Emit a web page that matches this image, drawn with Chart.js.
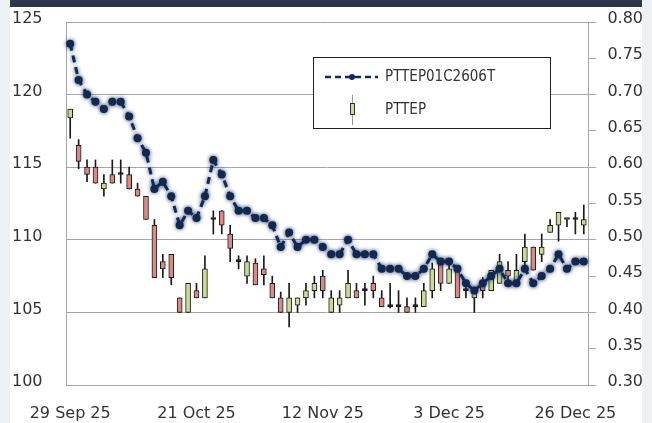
<!DOCTYPE html>
<html><head><meta charset="utf-8">
<script src="https://cdn.jsdelivr.net/npm/chart.js@4.4.1/dist/chart.umd.min.js"></script>
<style>
html,body{margin:0;padding:0;width:652px;height:423px;overflow:hidden;background:#eef1f4;}
#panel{position:absolute;left:10px;top:0;width:632px;height:423px;background:#fff;border-top:7px solid #2d3748;box-sizing:border-box;}
#wrap{position:absolute;left:0;top:0;width:652px;height:423px;}
</style></head><body>
<div id="panel"></div>
<div id="wrap"><canvas id="c" width="652" height="423"></canvas></div>
<script>
const dates = ["29 Sep 25","30 Sep 25","1 Oct 25","2 Oct 25","3 Oct 25","6 Oct 25","7 Oct 25","8 Oct 25","9 Oct 25","10 Oct 25",
"14 Oct 25","15 Oct 25","16 Oct 25","17 Oct 25","20 Oct 25","21 Oct 25","22 Oct 25","24 Oct 25","27 Oct 25","28 Oct 25",
"29 Oct 25","30 Oct 25","31 Oct 25","3 Nov 25","4 Nov 25","5 Nov 25","6 Nov 25","7 Nov 25","10 Nov 25","11 Nov 25",
"12 Nov 25","13 Nov 25","14 Nov 25","17 Nov 25","18 Nov 25","19 Nov 25","20 Nov 25","21 Nov 25","24 Nov 25","25 Nov 25",
"26 Nov 25","27 Nov 25","28 Nov 25","1 Dec 25","2 Dec 25","3 Dec 25","4 Dec 25","8 Dec 25","9 Dec 25","11 Dec 25",
"12 Dec 25","15 Dec 25","16 Dec 25","17 Dec 25","18 Dec 25","19 Dec 25","22 Dec 25","23 Dec 25","24 Dec 25","25 Dec 25",
"26 Dec 25","29 Dec 25"];

const stockOpen  = [118.4,116.5,115.0,115.0,113.5,114.5,114.5,114.5,113.5,113.0,
111.0,108.5,109.0,106.0,105.0,106.5,106.0,111.4,112.0,110.4,
108.5,107.5,108.4,108.0,107.0,106.0,105.0,105.5,106.0,106.5,
107.5,105.0,105.5,106.0,106.5,106.5,107.0,106.0,105.4,105.4,
105.4,105.4,105.4,106.5,108.5,107.0,107.9,106.5,106.0,107.2,
106.5,107.0,107.9,107.0,108.5,109.5,109.0,110.5,111.0,111.4,
111.4,111.0];
const stockHigh  = [119.0,116.9,115.5,115.5,114.5,115.5,115.5,115.0,113.9,113.0,
111.4,109.0,109.0,106.0,107.0,107.0,108.9,112.0,112.0,111.0,
108.9,108.9,108.7,108.9,107.5,106.4,107.0,106.0,107.0,107.5,
107.9,106.5,106.5,107.9,107.0,107.0,107.5,106.5,107.0,106.5,
106.0,106.0,107.0,108.4,108.7,108.4,107.9,107.0,106.7,107.4,
107.9,109.0,108.5,109.0,110.4,109.5,110.4,111.4,111.9,111.4,
111.9,112.4];
const stockLow   = [117.0,114.9,114.0,113.9,113.0,113.9,113.9,113.5,113.0,111.4,
107.4,107.4,106.9,105.0,105.0,106.0,106.0,110.4,110.4,108.5,
108.0,107.0,106.9,106.9,106.0,105.0,104.0,105.0,105.5,106.0,
106.0,105.0,105.0,106.0,106.0,105.5,106.0,105.4,105.3,105.0,
105.0,105.0,105.4,106.0,106.5,107.0,106.0,106.0,105.0,106.0,
106.5,107.0,107.0,107.0,107.9,107.9,108.5,110.5,109.9,110.9,
110.4,110.4];
const stockClose = [119.0,115.4,114.5,113.9,113.9,113.9,114.5,113.5,113.0,111.4,
107.4,108.0,107.4,105.0,107.0,106.0,108.0,111.4,111.0,109.4,
108.5,108.5,106.9,107.6,106.0,105.0,106.0,106.0,106.5,107.0,
106.5,106.0,106.0,107.0,106.0,106.5,106.5,105.4,105.4,105.4,
105.0,105.4,106.5,108.0,107.0,108.0,106.0,106.5,106.6,106.5,
107.9,108.5,107.5,107.9,109.5,107.9,109.5,111.0,111.9,111.4,
111.4,111.4];

const warrant = [0.77,0.72,0.70,0.69,0.68,0.69,0.69,0.67,0.64,0.62,
0.57,0.58,0.56,0.52,0.54,0.53,0.56,0.61,0.59,0.56,
0.54,0.54,0.53,0.53,0.52,0.49,0.51,0.49,0.50,0.50,
0.49,0.48,0.48,0.50,0.48,0.48,0.48,0.46,0.46,0.46,
0.45,0.45,0.46,0.48,0.47,0.47,0.46,0.44,0.43,0.44,
0.45,0.46,0.44,0.44,0.46,0.44,0.45,0.46,0.48,0.46,
0.47,0.47];

const leftTicks = {min:100, max:125, step:5};
const rightTicks = {min:0.30, max:0.80, step:0.05};

const GREEN = '#c9dc95', RED = '#d98a84', DARK = '#1a1a1a', NAVY = '#0f2a5c';
const GRID = '#a6a6a6';
const bodyColors = stockOpen.map((o,i)=> stockClose[i] > o ? GREEN : (stockClose[i] < o ? RED : DARK));

const shadowPlugin = {
  id:'shadow',
  beforeDatasetDraw(chart, args){
    if (chart.data.datasets[args.index].type === 'line'){
      const ctx = chart.ctx; ctx.save();
      ctx.shadowColor = 'rgba(15,40,90,0.85)'; ctx.shadowBlur = 4;
    }
  },
  afterDatasetDraw(chart, args){
    if (chart.data.datasets[args.index].type === 'line') chart.ctx.restore();
  }
};

const legendPlugin = {
  id:'boxLegend',
  afterDraw(chart){
    const ctx = chart.ctx;
    ctx.save();
    ctx.fillStyle = '#fff'; ctx.strokeStyle = '#222'; ctx.lineWidth = 1;
    ctx.fillRect(313.5, 57.5, 237, 71);
    ctx.strokeRect(313.5, 57.5, 237, 71);
    ctx.strokeStyle = NAVY; ctx.lineWidth = 2.5; ctx.setLineDash([6,4]);
    ctx.beginPath(); ctx.moveTo(325, 77); ctx.lineTo(378, 77); ctx.stroke();
    ctx.setLineDash([]);
    ctx.fillStyle = NAVY; ctx.beginPath(); ctx.arc(352, 77, 3, 0, Math.PI*2); ctx.fill();
    ctx.strokeStyle = '#999'; ctx.lineWidth = 1;
    ctx.beginPath(); ctx.moveTo(352.5, 95); ctx.lineTo(352.5, 125); ctx.stroke();
    ctx.fillStyle = GREEN; ctx.fillRect(350, 103, 5, 12);
    ctx.strokeStyle = '#333'; ctx.strokeRect(350.5, 103.5, 4, 11);
    ctx.fillStyle = '#333';
    ctx.font = '15px "Liberation Sans Narrow", "DejaVu Sans Condensed", "DejaVu Sans"';
    ctx.textBaseline = 'middle'; ctx.textAlign = 'left';
    ctx.fillText(chart.data.datasets[0].label, 385, 77);
    ctx.fillText(chart.data.datasets[1].label, 385, 110);
    ctx.restore();
  }
};

const font = {family:'"DejaVu Sans"', size:16};

new Chart(document.getElementById('c'), {
  data: {
    labels: dates,
    datasets: [
      { type:'line', label:'PTTEP01C2606T', data: warrant, yAxisID:'y2', order:0,
        borderColor: NAVY, borderWidth:3, borderDash:[7,5], tension:0,
        pointRadius:4, pointBackgroundColor:'#13284f', pointBorderWidth:0, fill:false },
      { type:'bar', label:'PTTEP', data: stockOpen.map((o,i)=>[o, stockClose[i]]), yAxisID:'y', order:1,
        grouped:false, barThickness:5, minBarLength:2, borderSkipped:false,
        backgroundColor: bodyColors, borderColor: DARK, borderWidth:1 },
      { type:'bar', label:'wick', data: stockLow.map((l,i)=>[l, stockHigh[i]]), yAxisID:'y', order:2,
        grouped:false, barThickness:1, backgroundColor: DARK, borderWidth:0 }
    ]
  },
  options: {
    responsive:false, animation:false, devicePixelRatio:1,
    layout:{padding:{top:22,left:12,right:9,bottom:0}},
    plugins:{legend:{display:false}, tooltip:{enabled:false}},
    scales:{
      x:{ type:'category', offset:true,
          grid:{display:false}, border:{display:true, color:GRID, width:1},
          ticks:{autoSkip:false, maxRotation:0, minRotation:0, padding:11, font, color:'#333',
                 callback:(v,i)=> i%15===0 ? dates[i] : ''},
          afterFit:s=>{s.height=38;} },
      y:{ position:'left', min:leftTicks.min, max:leftTicks.max,
          grid:{color:GRID, lineWidth:1, drawTicks:false}, border:{color:GRID, width:1},
          ticks:{stepSize:leftTicks.step, padding:0, crossAlign:'far', font, color:'#333', labelOffset:-3},
          afterFit:s=>{s.width=54;} },
      y2:{ position:'right', min:rightTicks.min, max:rightTicks.max,
          grid:{drawOnChartArea:false, drawTicks:true, tickLength:8, color:GRID}, border:{color:GRID, width:1},
          ticks:{stepSize:rightTicks.step, padding:0, crossAlign:'far', font, color:'#333', labelOffset:-3,
                 callback:v=> Number(v).toFixed(2)},
          afterFit:s=>{s.width=55;} }
    }
  },
  plugins:[shadowPlugin, legendPlugin]
});
</script>
</body></html>
